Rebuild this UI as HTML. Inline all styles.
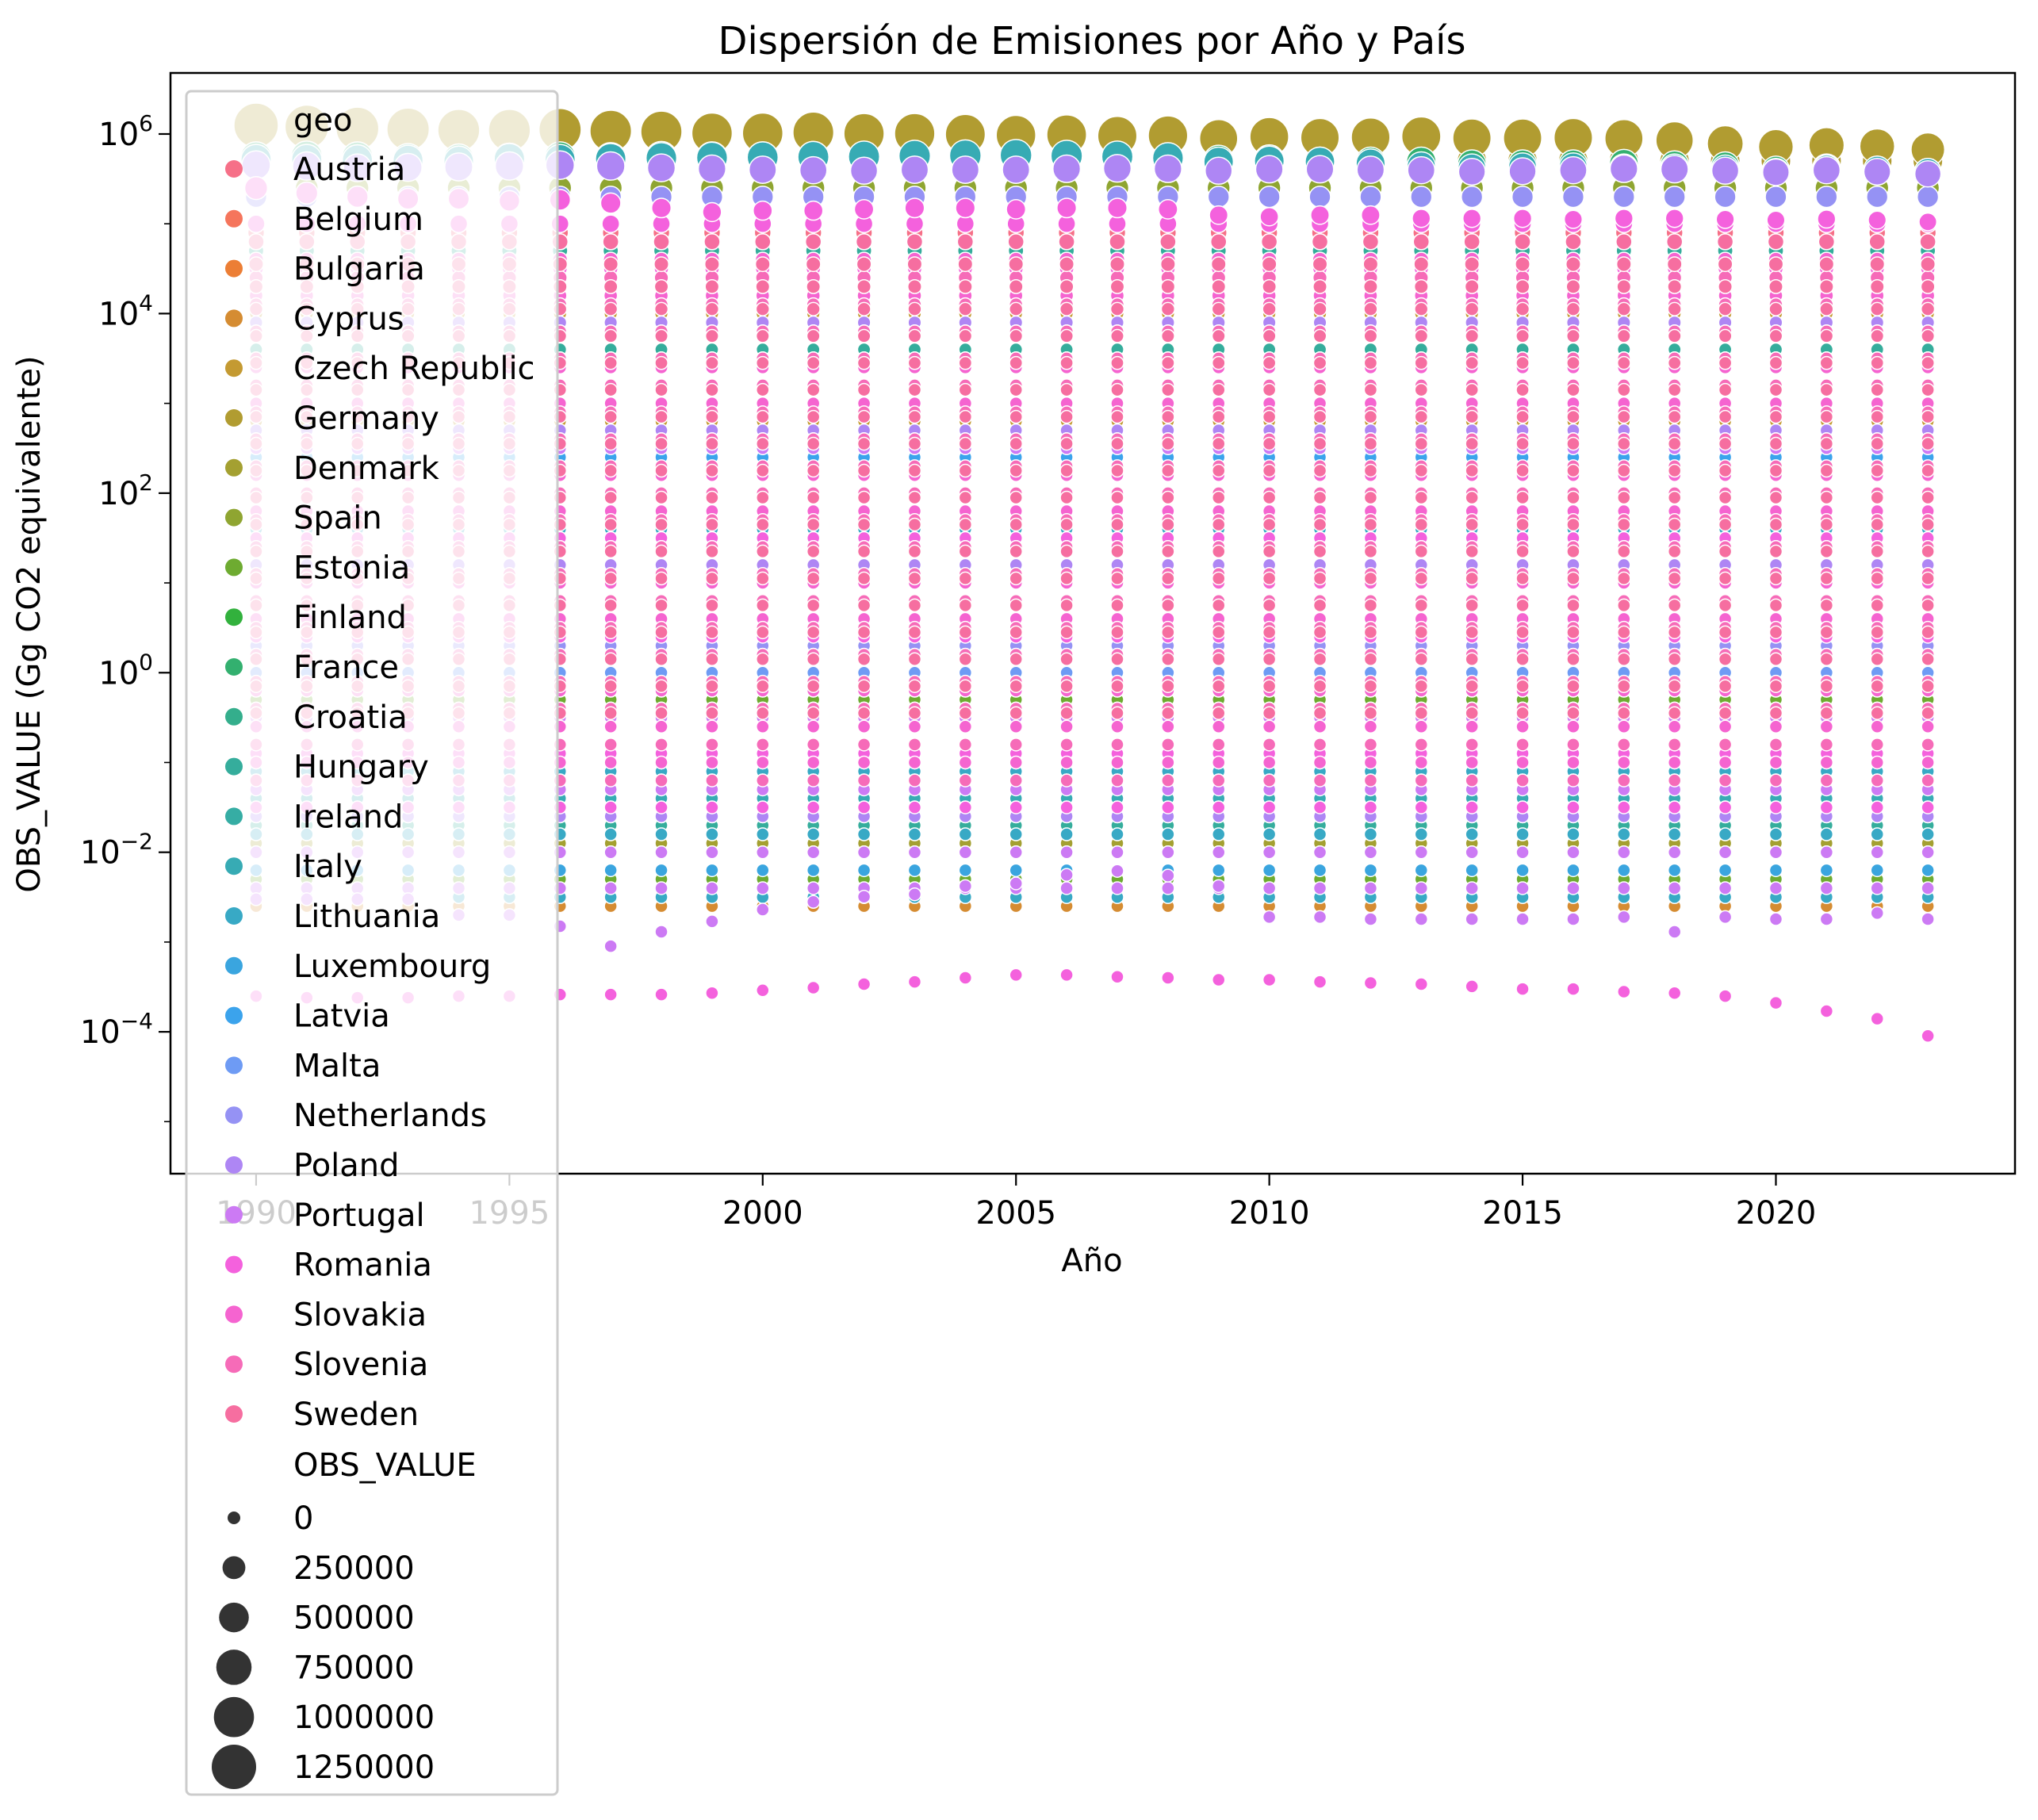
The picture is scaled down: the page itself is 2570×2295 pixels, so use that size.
<!DOCTYPE html>
<html><head><meta charset="utf-8"><style>
html,body{margin:0;padding:0;background:#fff;}
svg{display:block;font-family:"DejaVu Sans","Liberation Sans",sans-serif;}
</style></head><body>
<svg id="chart" width="2570" height="2295" viewBox="0 0 2570 2295" xmlns="http://www.w3.org/2000/svg">
<rect width="2570" height="2295" fill="#fff"/>
<text x="1377" y="68" font-size="48" text-anchor="middle">Dispersión de Emisiones por Año y País</text>
<g id="marks"></g>
<g id="axes"></g>
<text x="1377" y="1603" font-size="40" text-anchor="middle">Año</text>
<text x="0" y="0" font-size="40" text-anchor="middle" transform="translate(50,787) rotate(-90)">OBS_VALUE (Gg CO2 equivalente)</text>
<g id="legend"></g>
</svg>
<script>
const years = [1990,1991,1992,1993,1994,1995,1996,1997,1998,1999,2000,2001,2002,2003,2004,2005,2006,2007,2008,2009,2010,2011,2012,2013,2014,2015,2016,2017,2018,2019,2020,2021,2022,2023];
const countries = ["Austria","Belgium","Bulgaria","Cyprus","Czech Republic","Germany","Denmark","Spain","Estonia","Finland","France","Croatia","Hungary","Ireland","Italy","Lithuania","Luxembourg","Latvia","Malta","Netherlands","Poland","Portugal","Romania","Slovakia","Slovenia","Sweden"];
const colors = ["#f67088","#f5755c","#ec7e35","#d58c32","#c49a32","#b19c31","#a4a031","#8fa531","#6eab31","#32b13d","#33b06f","#34ae8c","#35ad9c","#36ada4","#37abb4","#38a9c5","#3aa5df","#3ba3ec","#6e9bf4","#9592f4","#ae86f4","#cc7af4","#f461dd","#f564d0","#f66bb8","#f66ea0"];
const germanyTotal = [1250000,1200000,1150000,1130000,1100000,1100000,1120000,1080000,1060000,1020000,1020000,1040000,1010000,1010000,990000,970000,980000,950000,960000,890000,930000,910000,920000,940000,900000,900000,910000,890000,850000,780000,720000,750000,730000,670000];
const italyTotal = [520000,520000,515000,510000,500000,530000,520000,530000,540000,545000,550000,555000,560000,570000,575000,580000,570000,560000,540000,490000,500000,490000,470000,440000,420000,430000,430000,420000,420000,410000,380000,410000,400000,380000];
const polandTotal = [450000,440000,420000,425000,430000,440000,450000,440000,420000,410000,400000,395000,390000,400000,400000,400000,410000,415000,410000,390000,405000,405000,400000,395000,380000,385000,395000,410000,405000,390000,375000,395000,380000,360000];
const franceTotal = [550000,560000,550000,530000,525000,535000,550000,540000,555000,550000,550000,555000,550000,555000,555000,555000,545000,535000,530000,510000,515000,490000,490000,490000,460000,460000,460000,465000,450000,440000,400000,420000,400000,380000];
const romaniaTotal = [250000,220000,200000,190000,190000,180000,185000,170000,150000,135000,140000,140000,145000,150000,150000,145000,150000,150000,145000,125000,120000,125000,125000,115000,115000,115000,112000,115000,115000,112000,110000,113000,110000,105000];
const romaniaMin = [0.00025,0.00024,0.00024,0.00024,0.00025,0.00025,0.00026,0.00026,0.00026,0.00027,0.00029,0.00031,0.00034,0.00036,0.0004,0.00043,0.00043,0.00041,0.0004,0.00038,0.00038,0.00036,0.00035,0.00034,0.00032,0.0003,0.0003,0.00028,0.00027,0.00025,0.00021,0.00017,0.00014,0.00009];
const portugalMin = [0.003,0.003,0.003,0.003,0.002,0.002,0.0015,0.0009,0.0013,0.0017,0.0023,0.0028,0.0032,0.0034,0.0042,0.0045,0.0056,0.0062,0.0055,0.0042,0.0019,0.0019,0.0018,0.0018,0.0018,0.0018,0.0018,0.0019,0.0013,0.0019,0.0018,0.0018,0.0021,0.0018];
const profiles = [
 [4.9,3.9,2.6,1.1,-0.4,-1.3],
 [5.0,4.0,2.7,1.0,-0.6],
 [4.8,3.6,2.0,0.4,-1.5],
 [3.9,2.8,1.2,-0.5,-1.7,-2.6],
 [5.0,4.0,2.8,1.2,-0.8,-1.6],
 [5.7,5.0,4.2,3.0,1.5,-0.2,-1.1],
 [4.8,3.8,2.4,0.8,-1.2,-1.9],
 [5.4,4.6,3.6,2.2,0.6,-1.0,-1.8],
 [4.2,3.0,1.5,-0.3,-1.4,-2.3],
 [4.7,3.6,2.0,0.4,-1.0,-1.7],
 [4.6,3.8,2.6,1.0,-0.5,-1.2],
 [4.3,3.0,1.5,-0.2,-1.3],
 [4.7,3.6,2.0,0.3,-1.0,-1.7],
 [4.6,3.4,2.2,0.8,-0.8,-1.6],
 [5.0,4.4,3.5,2.3,1.0,-0.6,-1.4],
 [4.1,3.0,1.6,0.0,-1.1,-1.8,-2.5],
 [3.8,2.5,1.0,-0.4,-1.2,-1.6,-2.2],
 [3.5,2.4,1.0,0.2,-0.6,-1.2,-2.0,-1.5],
 [2.5,1.5,0.6,0.0,-0.5,-1.0,-1.5,-1.2,-0.8],
 [5.3,4.3,3.2,1.7,0.3,-1.0,-0.5,0.8],
 [4.8,3.9,2.7,1.2,-0.4,-1.6,2.0,0.5],
 [4.5,3.5,2.5,1.5,0.5,-0.5,-1.3,-2.0,-2.4],
 [4.5,3.8,3.2,2.6,2.0,1.5,1.0,0.4,-0.2,-0.9,-1.5,5.0],
 [4.6,4.2,3.8,3.4,3.0,2.6,2.2,1.8,1.4,1.0,0.6,0.2,-0.2,-0.6,-1.0],
 [4.4,4.1,3.8,3.5,3.2,2.9,2.6,2.3,2.0,1.7,1.4,1.1,0.8,0.5,0.2,-0.1,-0.4,-0.8,-1.2],
 [4.8,4.55,4.3,4.05,3.75,3.45,3.15,2.85,2.55,2.25,1.95,1.65,1.35,1.05,0.75,0.45,0.15,-0.15,-0.45]
];
const yTickExps = [-4,-2,0,2,4,6];
const xTicks = [1990,1995,2000,2005,2010,2015,2020];
const sizeLegend = [0,250000,500000,750000,1000000,1250000];

const NS="http://www.w3.org/2000/svg";
const L=215,R=2541,T=92,B=1480;
const xmin=1988.31,xmax=2024.72,ymin=-5.58,ymax=6.68;
const xs=v=>L+(v-xmin)/(xmax-xmin)*(R-L);
const ys=v=>B-(Math.log10(v)-ymin)/(ymax-ymin)*(B-T);
const rs=v=>Math.sqrt(64+(784-64)*Math.max(v,0)/1250000);
function mk(tag,attrs,parent){const e=document.createElementNS(NS,tag);for(const k in attrs)e.setAttribute(k,attrs[k]);parent.appendChild(e);return e;}
const marks=document.getElementById('marks');
const clip=mk('clipPath',{id:'pc'},document.getElementById('chart'));
mk('rect',{x:L,y:T,width:R-L,height:B-T},clip);
marks.setAttribute('clip-path','url(#pc)');
function dot(yr,v,ci){
  const c=mk('circle',{cx:xs(yr),cy:ys(v),r:rs(v),fill:colors[ci],stroke:'#fff','stroke-width':1.5},marks);
  
  
}
years.forEach((yr,i)=>{
  countries.forEach((c,ci)=>{
    profiles[ci].forEach(e=>dot(yr,Math.pow(10,e),ci));
    if(ci===5) dot(yr,germanyTotal[i],ci);
    if(ci===10) dot(yr,franceTotal[i],ci);
    if(ci===14) dot(yr,italyTotal[i],ci);
    if(ci===20) dot(yr,polandTotal[i],ci);
    if(ci===21) dot(yr,portugalMin[i],ci);
    if(ci===22){dot(yr,romaniaTotal[i],ci);dot(yr,romaniaMin[i],ci);}
  });
});
const axes=document.getElementById('axes');
const frame=mk('rect',{x:L,y:T,width:R-L,height:B-T,fill:'none',stroke:'#000','stroke-width':2.5},axes);


xTicks.forEach(t=>{
  const x=xs(t);
  mk('line',{x1:x,y1:B,x2:x,y2:B+15,stroke:'#000','stroke-width':2.2},axes);
  const tx=mk('text',{x:x,y:B+63,'font-size':40,'text-anchor':'middle'},axes);
  tx.textContent=t;
  
  
});
for(let e=-5;e<=6;e++){
  const y=ys(Math.pow(10,e));
  const major=yTickExps.includes(e);
  mk('line',{x1:L,y1:y,x2:L-(major?15:8),y2:y,stroke:'#000','stroke-width':major?2.2:1.6},axes);
}
yTickExps.forEach(e=>{
  const y=ys(Math.pow(10,e));
  const tx=mk('text',{x:L-22,y:y+14,'font-size':40,'text-anchor':'end'},axes);
  
  
  const a=mk('tspan',{},tx);a.textContent='10';
  const b=mk('tspan',{dy:-18,'font-size':28},tx);b.textContent=String(e).replace('-','\u2212');
});
const lg=document.getElementById('legend');
const box=mk('rect',{x:235,y:115,width:468,height:2148,rx:6,fill:'#fff','fill-opacity':0.8,stroke:'#cccccc','stroke-width':3},lg);


const t0=mk('text',{x:370,y:165,'font-size':40},lg);t0.textContent='geo';


countries.forEach((c,i)=>{
  const y=213+i*62.8;
  const g=mk('g',{},lg);
  
  
  mk('circle',{cx:295,cy:y,r:11,fill:colors[i]},g);
  const t=mk('text',{x:370,y:y+14,'font-size':40},g);t.textContent=c;
});
const t1=mk('text',{x:370,y:1861,'font-size':40},lg);t1.textContent='OBS_VALUE';


sizeLegend.forEach((v,i)=>{
  const y=1914+i*62.8;
  const g=mk('g',{},lg);
  
  
  mk('circle',{cx:295,cy:y,r:rs(v),fill:'#333'},g);
  const t=mk('text',{x:370,y:y+14,'font-size':40},g);t.textContent=v;
});
</script>
</body></html>
